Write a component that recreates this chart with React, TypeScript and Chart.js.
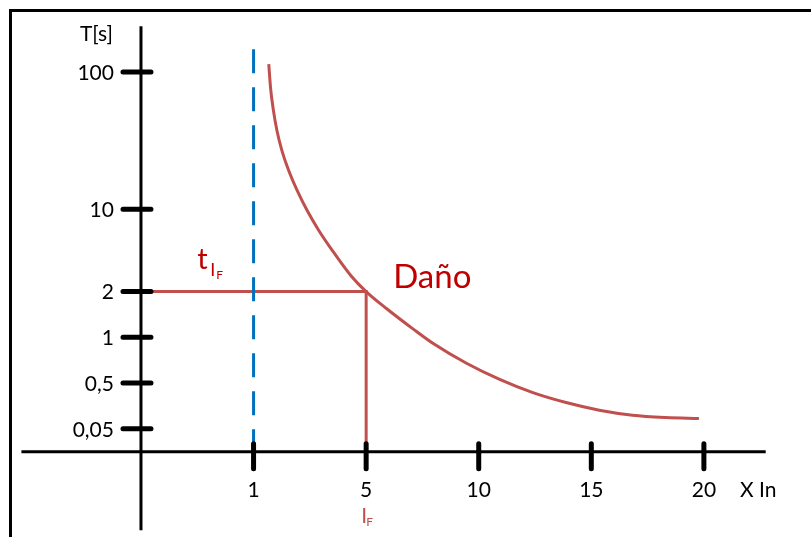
import React, { useEffect, useRef } from "react";
import { Chart, registerables } from "chart.js";

Chart.register(...registerables);

// X axis: evenly spaced schematic positions (0 = origin)
const xTickPositions = [1, 2, 3, 4, 5];
const xTickLabels = ["1", "5", "10", "15", "20"];

// Y axis: schematic positions for the time ticks
const yTickPositions = [0.5, 1.5, 2.5, 3.5, 5.3, 8.3];
const yTickLabels = ["0,05", "0,5", "1", "2", "10", "100"];

// Damage curve (in schematic axis units)
const curveX = [1.135, 1.152, 1.177, 1.208, 1.252, 1.312, 1.387, 1.475, 1.578, 1.697, 1.867, 2.0, 2.183, 2.419, 2.596, 2.891, 3.186, 3.481, 3.776, 4.071, 4.366, 4.661, 4.956];
const curveY = [8.47, 7.928, 7.45, 7.015, 6.58, 6.146, 5.711, 5.276, 4.841, 4.407, 3.841, 3.5, 3.124, 2.678, 2.363, 1.933, 1.58, 1.291, 1.074, 0.907, 0.798, 0.748, 0.726];

// Fault point I_F (x = 5 In) and its time t_IF (2 s)
const faultX = 2;
const faultY = 3.5;
// Nominal current dashed line (x = 1 In)
const nominalX = 1;
const nominalTop = 8.8;

const X_MIN = -140 / 113;
const X_MAX = (811 - 140) / 113;
const Y_MAX = 452.7 / 46;
const Y_MIN = -(537 - 452.7) / 46;

const RED = "#C0504D";
const DARK_RED = "#C00000";
const BLUE = "#0070C0";
const FONT = "Lato, 'Open Sans', sans-serif";

const overlay = {
  id: "schematicAxes",
  beforeDraw(chart: any) {
    const ctx = chart.ctx;
    ctx.save();
    ctx.fillStyle = "#ffffff";
    ctx.fillRect(0, 0, chart.width, chart.height);
    ctx.fillStyle = "#000000";
    ctx.fillRect(9, 9, chart.width - 9, 3);
    ctx.fillRect(9, 9, 3, chart.height - 9);
    ctx.restore();
  },
  afterDatasetsDraw(chart: any) {
    const ctx = chart.ctx;
    const xs = chart.scales.x;
    const ys = chart.scales.y;
    const x0 = xs.getPixelForValue(0);
    const y0 = ys.getPixelForValue(0);
    ctx.save();
    // axis lines
    ctx.strokeStyle = "#000";
    ctx.lineWidth = 3;
    ctx.lineCap = "butt";
    ctx.beginPath();
    ctx.moveTo(xs.getPixelForValue(-1.062), y0);
    ctx.lineTo(xs.getPixelForValue(5.549), y0);
    ctx.moveTo(x0, ys.getPixelForValue(9.298));
    ctx.lineTo(x0, ys.getPixelForValue(-1.717));
    ctx.stroke();

    // tick marks
    ctx.lineWidth = 5;
    ctx.lineCap = "round";
    ctx.beginPath();
    yTickPositions.forEach((v) => {
      const y = ys.getPixelForValue(v);
      ctx.moveTo(x0 - 18, y);
      ctx.lineTo(x0 + 10, y);
    });
    xTickPositions.forEach((v) => {
      const x = xs.getPixelForValue(v);
      ctx.moveTo(x, y0 - 8);
      ctx.lineTo(x, y0 + 17);
    });
    ctx.stroke();

    // tick labels
    ctx.fillStyle = "#000";
    ctx.font = `21px ${FONT}`;
    ctx.textAlign = "right";
    ctx.textBaseline = "middle";
    yTickPositions.forEach((v, i) => {
      ctx.fillText(yTickLabels[i], x0 - 27, ys.getPixelForValue(v) + 1);
    });
    ctx.fillText("T[s]", x0 - 28, ys.getPixelForValue(9.12));
    ctx.textAlign = "center";
    xTickPositions.forEach((v, i) => {
      ctx.fillText(xTickLabels[i], xs.getPixelForValue(v), y0 + 39);
    });
    ctx.textAlign = "left";
    ctx.fillText("X In", xs.getPixelForValue(5.32), y0 + 39);

    // I_F label
    ctx.fillStyle = RED;
    ctx.textBaseline = "alphabetic";
    const fx = xs.getPixelForValue(faultX);
    ctx.font = `21px ${FONT}`;
    ctx.fillText("I", fx - 5, y0 + 71);
    ctx.font = `12px ${FONT}`;
    ctx.fillText("F", fx + 0, y0 + 74);

    // t_IF label
    ctx.fillStyle = DARK_RED;
    const tx = xs.getPixelForValue(0.5);
    const ty = ys.getPixelForValue(faultY) - 23;
    ctx.font = `29px ${FONT}`;
    ctx.fillText("t", tx, ty);
    ctx.font = `18px ${FONT}`;
    ctx.fillText("I", tx + 13, ty + 7);
    ctx.font = `12px ${FONT}`;
    ctx.fillText("F", tx + 19, ty + 10);

    // Daño label
    ctx.font = `33px ${FONT}`;
    ctx.fillText("Daño", xs.getPixelForValue(2.24), ys.getPixelForValue(faultY) - 4);
    ctx.restore();
  },
};

export default function App() {
  const ref = useRef<HTMLCanvasElement | null>(null);
  useEffect(() => {
    if (!ref.current) return;
    const curve = curveX.map((x, i) => ({ x, y: curveY[i] }));
    const chart = new Chart(ref.current, {
      type: "scatter",
      data: {
        datasets: [
          {
            data: [
              { x: nominalX, y: nominalTop },
              { x: nominalX, y: 0 },
            ],
            showLine: true,
            borderColor: BLUE,
            borderWidth: 3,
            borderDash: [24, 14],
            pointRadius: 0,
            order: 0,
          },
          {
            data: curve,
            showLine: true,
            borderColor: RED,
            borderWidth: 3,
            cubicInterpolationMode: "monotone",
            pointRadius: 0,
            order: 1,
          },
          {
            data: [
              { x: 0, y: faultY },
              { x: faultX, y: faultY },
              { x: faultX, y: 0 },
            ],
            showLine: true,
            borderColor: RED,
            borderWidth: 3,
            pointRadius: 0,
            order: 2,
          },
        ],
      },
      options: {
        animation: false,
        responsive: false,
        maintainAspectRatio: false,
        events: [],
        layout: { padding: 0 },
        plugins: { legend: { display: false }, tooltip: { enabled: false } },
        scales: {
          x: { type: "linear", display: false, min: X_MIN, max: X_MAX },
          y: { type: "linear", display: false, min: Y_MIN, max: Y_MAX },
        },
      },
      plugins: [overlay],
    } as any);
    (document as any).fonts?.ready?.then(() => chart.update());
    return () => chart.destroy();
  }, []);
  return (
    <div style={{ position: "fixed", left: 0, top: 0, width: 811, height: 537 }}>
      <canvas ref={ref} width={811} height={537} style={{ width: 811, height: 537, display: "block" }} />
    </div>
  );
}
